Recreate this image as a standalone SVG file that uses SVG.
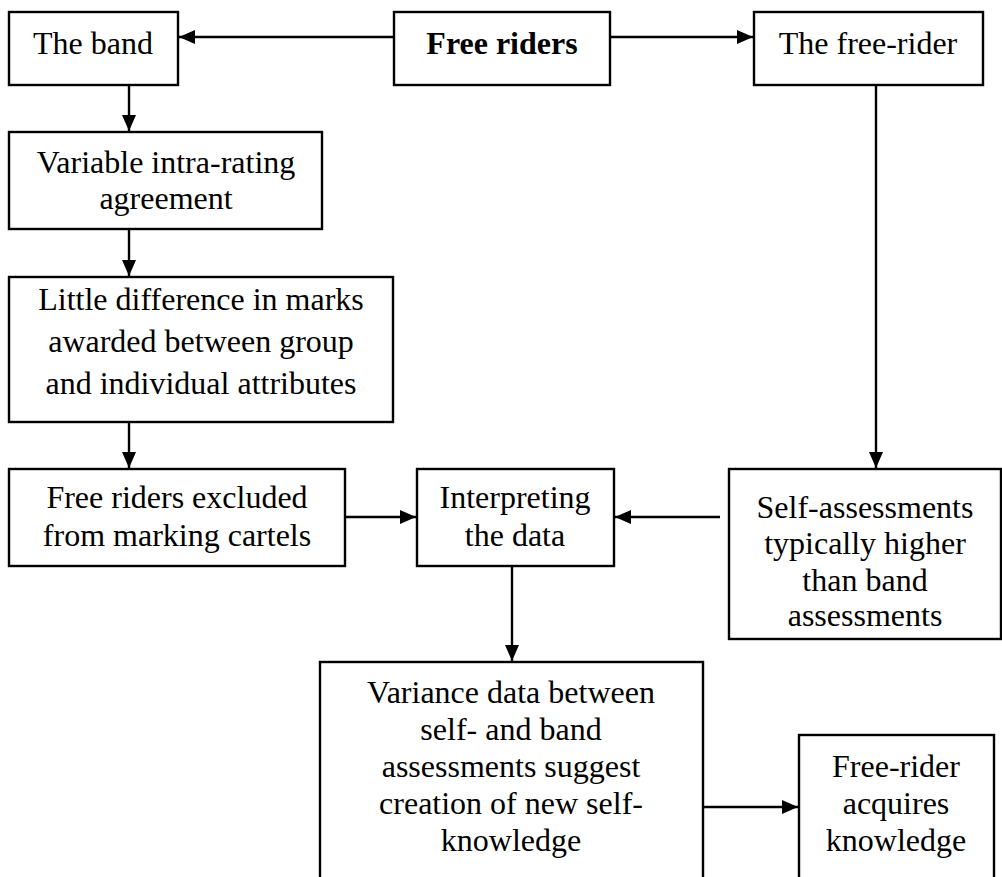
<svg xmlns="http://www.w3.org/2000/svg" width="1002" height="877" viewBox="0 0 1002 877">
  <style>
    .box { fill: #ffffff; stroke: #000000; stroke-width: 2.4; }
    .lbl { font-family: "Liberation Serif", "Times New Roman", serif; font-size: 32px; fill: #000000; text-anchor: middle; }
    .bold { font-weight: bold; }
    .conn { fill: none; stroke: #000000; stroke-width: 2.4; marker-end: url(#head); }
  </style>
  <defs>
    <marker id="head" viewBox="0 0 16 14" refX="16" refY="7" markerWidth="16" markerHeight="14" markerUnits="userSpaceOnUse" orient="auto">
      <path d="M0,0 L16,7 L0,14 Z" fill="#000000"/>
    </marker>
  </defs>
  <rect width="1002" height="877" fill="#ffffff"/>

  <!-- connectors -->
  <g id="connectors">
    <line class="conn" x1="394" y1="37" x2="179" y2="37"/>
    <line class="conn" x1="610" y1="37" x2="753" y2="37"/>
    <line class="conn" x1="129" y1="85" x2="129" y2="131"/>
    <line class="conn" x1="129" y1="229" x2="129" y2="276"/>
    <line class="conn" x1="129" y1="422" x2="129" y2="468"/>
    <line class="conn" x1="876" y1="85" x2="876" y2="468"/>
    <line class="conn" x1="345" y1="517" x2="416" y2="517"/>
    <line class="conn" x1="720" y1="517" x2="615" y2="517"/>
    <line class="conn" x1="512" y1="566" x2="512" y2="661"/>
    <line class="conn" x1="703" y1="807" x2="798" y2="807"/>
  </g>

  <g id="n-band">
    <rect class="box" x="9" y="12" width="169" height="73"/>
    <text class="lbl" x="93" y="54">The band</text>
  </g>

  <g id="n-free-riders">
    <rect class="box" x="394" y="12" width="216" height="73"/>
    <text class="lbl bold" x="502" y="54">Free riders</text>
  </g>

  <g id="n-the-free-rider">
    <rect class="box" x="754" y="12" width="229" height="73"/>
    <text class="lbl" x="868" y="54">The free-rider</text>
  </g>

  <g id="n-variable">
    <rect class="box" x="9" y="132" width="313" height="97"/>
    <text class="lbl" x="166" y="173">Variable intra-rating</text>
    <text class="lbl" x="166" y="209">agreement</text>
  </g>

  <g id="n-little-difference">
    <rect class="box" x="9" y="277" width="384" height="145"/>
    <text class="lbl" x="201" y="310">Little difference in marks</text>
    <text class="lbl" x="201" y="352">awarded between group</text>
    <text class="lbl" x="201" y="394">and individual attributes</text>
  </g>

  <g id="n-excluded">
    <rect class="box" x="9" y="469" width="336" height="97"/>
    <text class="lbl" x="177" y="508">Free riders excluded</text>
    <text class="lbl" x="177" y="546">from marking cartels</text>
  </g>

  <g id="n-interpreting">
    <rect class="box" x="417" y="469" width="197" height="97"/>
    <text class="lbl" x="515" y="508">Interpreting</text>
    <text class="lbl" x="515" y="546">the data</text>
  </g>

  <g id="n-self-assessments">
    <rect class="box" x="729" y="469" width="272" height="170"/>
    <text class="lbl" x="865" y="518">Self-assessments</text>
    <text class="lbl" x="865" y="554">typically higher</text>
    <text class="lbl" x="865" y="591">than band</text>
    <text class="lbl" x="865" y="626">assessments</text>
  </g>

  <g id="n-variance">
    <rect class="box" x="320" y="662" width="383" height="230"/>
    <text class="lbl" x="511" y="703">Variance data between</text>
    <text class="lbl" x="511" y="740">self- and band</text>
    <text class="lbl" x="511" y="777">assessments suggest</text>
    <text class="lbl" x="511" y="814">creation of new self-</text>
    <text class="lbl" x="511" y="851">knowledge</text>
  </g>

  <g id="n-acquires">
    <rect class="box" x="799" y="735" width="195" height="160"/>
    <text class="lbl" x="896" y="777">Free-rider</text>
    <text class="lbl" x="896" y="814">acquires</text>
    <text class="lbl" x="896" y="851">knowledge</text>
  </g>
</svg>
